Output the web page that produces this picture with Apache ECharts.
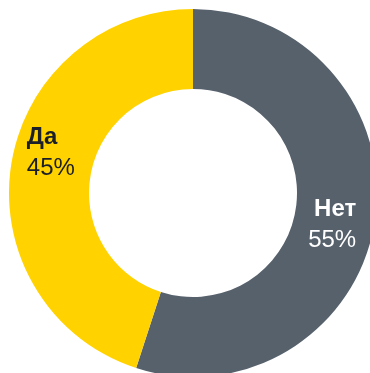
<!DOCTYPE html>
<html>
<head>
<meta charset="utf-8">
<script src="https://cdn.jsdelivr.net/npm/echarts@6/dist/echarts.min.js"></script>
<style>
  html, body { margin: 0; padding: 0; background: #fff; }
  #chart { width: 370px; height: 373px; }
</style>
</head>
<body>
<div id="chart"></div>
<script>
let categories = ['Нет', 'Да']
let values = [55, 45]
let colors = ['#56616c', '#ffd200']
let textColors = ['#ffffff', '#1b1f29']
// small nudges so the text sits like in the original
let aligns = ['right', 'left']
let paddings = [[17, 18, 0, 0], [0, 0, 34, 12]]

let myChart = echarts.init(document.getElementById('chart'))

function richFor (i) {
  let base = { fontSize: 24, lineHeight: 31, width: 54, align: aligns[i], color: textColors[i], fontFamily: 'Liberation Sans' }
  return {
    n: Object.assign({}, base, { fontWeight: 'bold' }),
    p: Object.assign({}, base)
  }
}

myChart.setOption({
  animation: false,
  series: [
    {
      type: 'pie',
      center: [193, 193],
      radius: [104, 184],
      startAngle: 90,
      clockwise: true,
      avoidLabelOverlap: false,
      silent: true,
      data: categories.map((name, i) => ({
        name: name,
        value: values[i],
        itemStyle: { color: colors[i] },
        label: {
          padding: paddings[i],
          rich: richFor(i)
        }
      })),
      label: {
        show: true,
        position: 'inside',
        formatter: p => '{n|' + p.name + '}\n{p|' + p.value + '%}'
      },
      labelLine: { show: false }
    }
  ]
})
</script>
</body>
</html>
